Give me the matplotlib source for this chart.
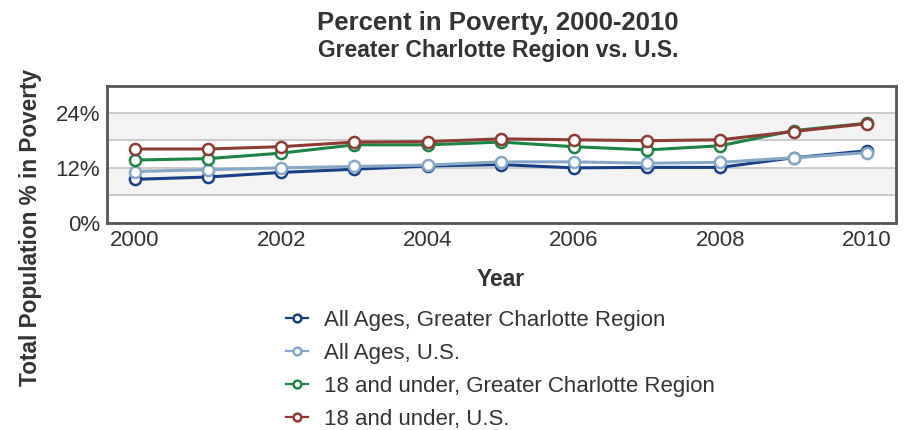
import numpy as np
import matplotlib
matplotlib.use("Agg")
import matplotlib.pyplot as plt

plt.rcParams['font.family'] = ['Liberation Sans', 'DejaVu Sans']

years = [2000, 2001, 2002, 2003, 2004, 2005, 2006, 2007, 2008, 2009, 2010]
all_ages_region = [9.5, 10.0, 11.0, 11.7, 12.4, 12.7, 12.0, 12.1, 12.1, 14.2, 15.7]
all_ages_us = [11.2, 11.6, 12.0, 12.3, 12.6, 13.3, 13.3, 13.0, 13.2, 14.2, 15.3]
under18_region = [13.7, 14.0, 15.2, 17.0, 17.0, 17.6, 16.6, 15.9, 16.8, 20.1, 21.7]
under18_us = [16.1, 16.1, 16.6, 17.6, 17.7, 18.3, 18.1, 17.9, 18.1, 19.9, 21.6]

labels = ["All Ages, Greater Charlotte Region", "All Ages, U.S.",
          "18 and under, Greater Charlotte Region", "18 and under, U.S."]
colors = ["#173f86", "#86a8c6", "#1c8445", "#8e3c33"]
series = [all_ages_region, all_ages_us, under18_region, under18_us]

W, H = 907, 430
fig = plt.figure(figsize=(W / 100, H / 100), dpi=100)
ax = fig.add_axes([107 / W, 1 - 223 / H, (896 - 107) / W, (223 - 86) / H])

# alternating bands
for lo, hi in [(6, 12), (18, 24)]:
    ax.axhspan(lo, hi, color="#f3f3f3", zorder=0)
for g in [6, 12, 18, 24]:
    ax.axhline(g, color="#c4c4c4", lw=1.2, zorder=1)

handles = []
for vals, c, lab in zip(series, colors, labels):
    h, = ax.plot(years, vals, color=c, lw=2.2, marker="o", ms=8,
                 mfc="white", mec=c, mew=1.8, label=lab, zorder=3)
    handles.append(h)

ax.set_xlim(1999.62, 2010.4)
ax.set_ylim(0, 29.8)
ax.set_yticks([0, 12, 24])
ax.set_yticklabels(["0%", "12%", "24%"])
ax.set_xticks([2000, 2002, 2004, 2006, 2008, 2010])
ax.tick_params(length=0, labelsize=16, colors="#333333", pad=5)
for s in ax.spines.values():
    s.set_color("#555555")
    s.set_linewidth(2)

fig.text(498 / W, 1 - 30 / H, "Percent in Poverty, 2000-2010", ha="center",
         va="baseline", fontsize=18.5, fontweight="bold", color="#333333")
fig.text(498 / W, 1 - 57 / H, "Greater Charlotte Region vs. U.S.", ha="center",
         va="baseline", fontsize=16.5, fontweight="bold", color="#333333")
fig.text(31 / W, 1 - 227 / H, "Total Population % in Poverty", rotation=90,
         ha="center", va="center", fontsize=16.3, fontweight="bold", color="#333333")
fig.text(501 / W, 1 - 286 / H, "Year", ha="center", va="baseline",
         fontsize=16.4, fontweight="bold", color="#333333")

leg = fig.legend(handles=handles, loc="upper left", bbox_to_anchor=(266 / W, 1 - 290 / H),
                 frameon=False, fontsize=16, handlelength=1.0, labelspacing=0.54,
                 handletextpad=0.7, markerscale=0.7)
for t in leg.get_texts():
    t.set_color("#333333")
for lh in leg.legend_handles:
    lh.set_linewidth(1.6)

fig.savefig("out.png", dpi=100)
